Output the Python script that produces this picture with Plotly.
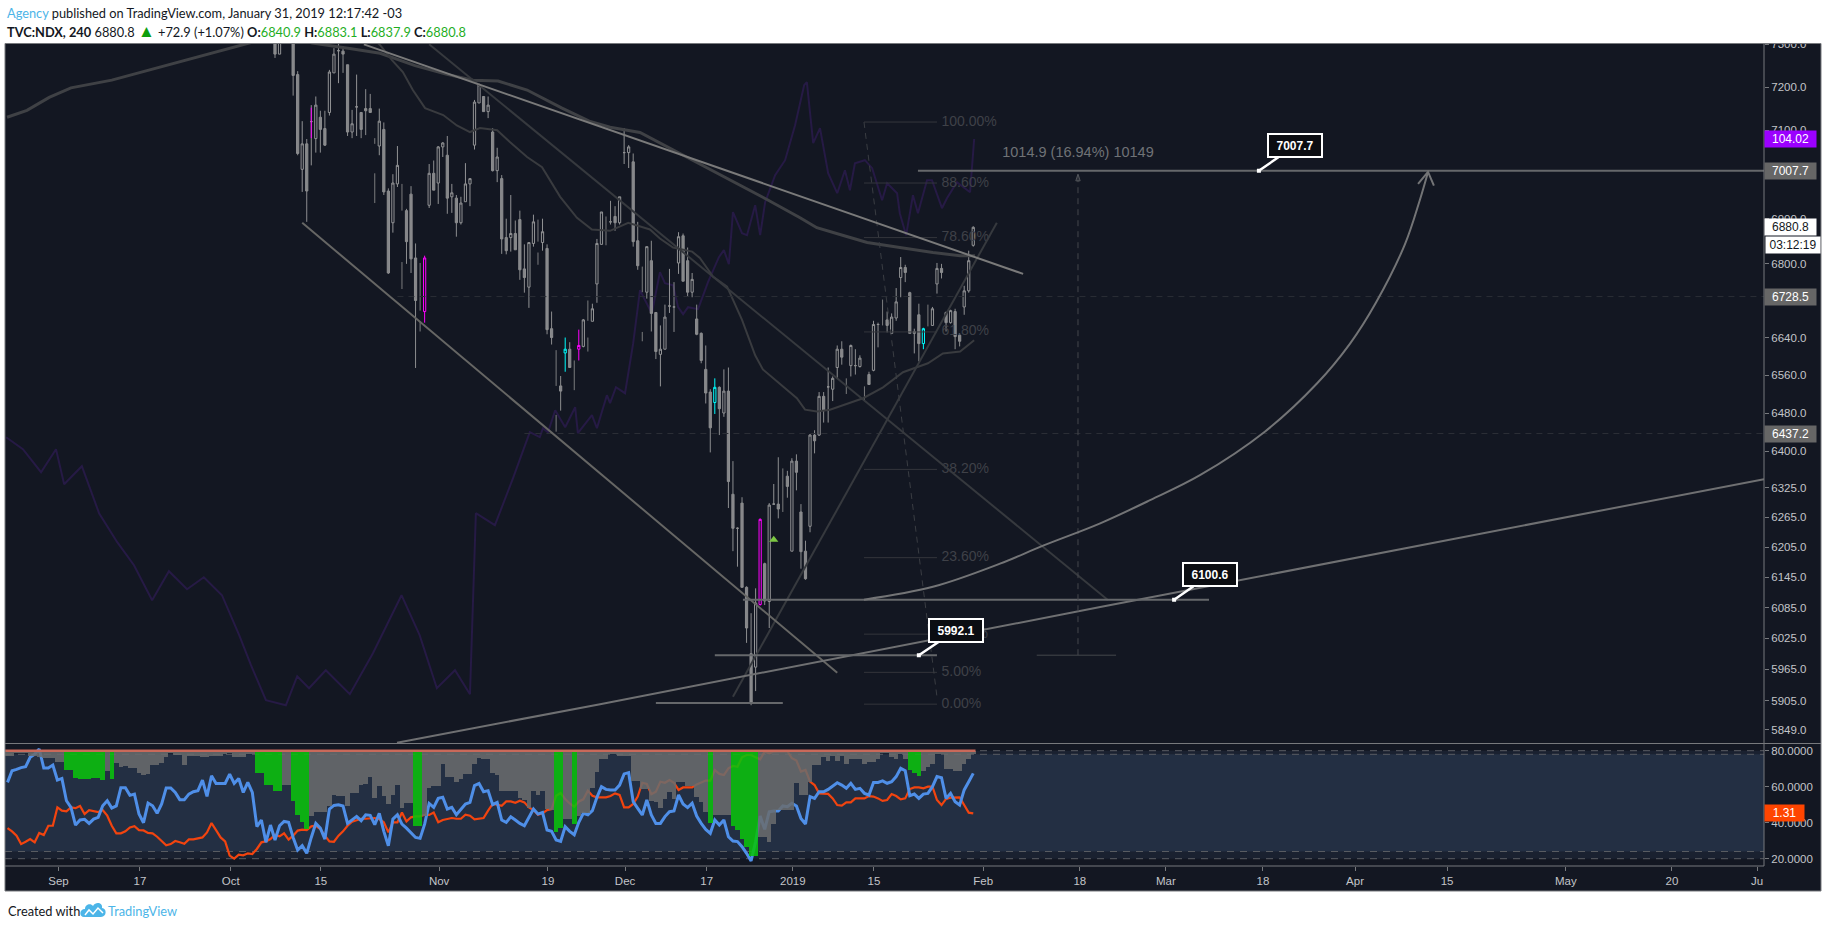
import math
import plotly.graph_objects as go

# ---------- price panel candles (bar index, 4h bars) ----------
candle_bars = list(range(60, 215))
opens = [7340,7277,None,None,7340,7229,7011,7069,7120,7081,
 7130,7104,7141,7233,7285,7284,7252,7096,7154,7141,
 7150,7150,None,7064,7102,6962,6891,6978,None,6918,
 6955,6813,None,6696,6930,7002,6980,7062,7043,6949,
 6946,6891,6938,6978,7066,7163,7178,7143,7096,7008,
 6990,6858,6858,6867,6898,6789,6749,6845,None,6847,
 6834,6659,None,6537,6607,6615,None,6615,6621,None,
 6675,6756,6843,None,6893,6905,6891,7049,7049,7028,
 6851,None,6738,6807,6694,6604,6615,6708,6706,6802,
 6862,6807,6738,6680,6649,6572,6524,6502,6534,6480,
 6526,6312,6243,6294,6125,5995,5969,6091,6172,6097,
 6292,6292,None,6349,6197,6380,6276,6197,6247,6434,
 6434,6515,6535,6530,6576,6615,None,6580,6580,6578,
 None,6561,6570,6668,None,6678,6649,6682,6770,6792,
 6737,6649,6689,6627,None,6666,6756,6790,6694,6672,
 6696,6645,6706,6741,6840.9]
highs = [7350,7340,None,None,7350,7237,7121,7080,7158,7178,
 7145,7145,7240,7291,7320,7296,7252,7147,7229,7141,
 7195,7184,None,7150,7118,6968,7000,7064,None,6922,
 6973,6845,None,6818,7023,7031,7064,7073,7087,6978,
 6953,6949,7025,6990,7170,7208,7178,7178,7105,7060,
 6998,6900,6953,6896,6918,6843,6847,6909,None,6900,
 6843,6696,None,6558,6640,6630,None,6657,6680,None,
 6713,6855,6915,None,6940,6928,6949,7105,7066,7047,
 6893,None,6838,6851,6694,6666,6711,6789,6760,6870,
 6867,6836,6780,6711,6651,6623,6530,6553,6536,6572,
 6576,6380,6245,6306,6127,6074,6123,6263,6174,6294,
 6333,6388,None,6360,6386,6394,6292,6218,6436,6444,
 6524,6524,6576,6557,6623,6632,None,6625,6615,6602,
 None,6567,6676,6672,None,6696,6692,6747,6815,6798,
 6739,6659,6713,6661,None,6706,6802,6800,6696,6700,
 6702,6649,6752,6829,6883.1]
lows = [7268,7277,None,None,7180,7043,6960,6893,7020,7049,
 7049,7064,7134,7233,7209,7233,7087,7082,7087,7082,
 7089,7141,None,7043,6953,6778,6869,6971,None,6800,
 6780,6575,None,6672,6924,6964,6933,7039,6911,6913,
 6860,6887,6938,6928,7056,7163,7143,7128,7006,6982,
 6822,6821,6827,6831,6765,6737,6704,6838,None,6829,
 6647,6625,None,6485,6567,6576,None,6591,6619,None,
 6675,6715,6843,None,6887,6873,6887,7023,7014,6838,
 6787,None,6724,6653,6594,6536,6615,6693,6652,6778,
 6762,6729,6727,6645,6585,6500,6398,6478,6434,6472,
 6284,6197,6166,6125,6016,5896,5923,6089,6090,6045,
 6292,6263,None,6305,6197,6320,6162,6140,6235,6396,
 6432,6460,6460,6505,6553,6582,None,6557,6561,6576,
 None,6540,6568,6619,None,6651,6649,6676,6727,6760,
 6649,6606,6589,6615,None,6666,6735,6768,6653,6670,
 6615,6621,6689,6737,6837.9]
closes = [7277,7330,None,None,7227,7047,7069,6962,7120,7158,
 7102,7066,7235,7277,7285,7277,7096,7115,7154,7102,
 7145,7141,None,7121,6960,6780,6980,7020,None,6849,
 6811,6720,None,6813,7002,6964,7062,7071,6946,6958,
 6891,6935,6978,6990,7165,7205,7143,7158,7008,7039,
 6855,6829,6867,6831,6787,6770,6847,6893,None,6871,
 6657,6640,None,6526,6615,6576,None,6623,6678,None,
 6702,6845,6915,None,6893,6891,6949,7049,7062,6849,
 6796,None,6838,6692,6610,6615,6684,6708,6706,6860,
 6762,6738,6766,6647,6591,6522,6449,6534,6489,6526,
 6338,6243,6243,6125,6045,5902,6094,6261,6098,6290,
 6292,6282,None,6328,6380,6357,6196,6142,6434,6422,
 6515,6485,6535,6553,6615,6598,None,6623,6580,6596,
 None,6540,6668,6668,None,6666,6684,6717,6792,6781,
 6649,6653,6627,6659,None,6702,6790,6781,6672,6698,
 6642,6632,6741,6807,6880.8]
magenta_bars = [93, 127, 167]
cyan_bars = [124, 157, 203]

# wicks whose bodies blend into the background
ghost_bars = [82,82,88,88,92,92,118,118,122,122,126,129,129,133,141,141,172,186,190,194,204]
ghost_tops = [7082,7002,6978,6804,6802,6675,6898,6825,6613,6476,6591,6720,6640,6905,6794,6652,6365,6553,6536,6722,6711]
ghost_bots = [7069,6935,6918,6745,6698,6653,6849,6798,6537,6441,6528,6676,6610,6841,6738,6632,6276,6520,6505,6666,6664]
sliver_bars = [68, 68]
sliver_prices = [7152, 7082]

# ---------- moving averages ----------
ma_long_a_bars = [0.9,5.3,10.2,15,24,33.8,41.7,48.5,52.9,56.7]
ma_long_a_prices = [7130,7146,7176,7198,7216,7244,7268,7286,7300,7310]
ma_long_b_bars = [66,68.2,76.1,83.2,90.9,97.7,103.7,109.2,115.6,123.3,129.3,133.9,140.5,153.7,162.6,168.5,175.8,179.5,184.6,190.6,197.8,205.1,211.1,214.4]
ma_long_b_prices = [7310,7303,7291,7279,7250,7230,7216,7214,7193,7151,7121,7107,7095,7023,6973,6943,6902,6880,6865,6847,6836,6825,6818,6818]
ma_mid_bars = [81,83.2,85.8,88.2,90.4,93.1,97.1,100.1,103,105.2,109,111.8,115.6,118.9,122.9,126.6,129.9,133.9,137.9,142.7,144.9,147.8,152,153.7,156.6,159.7,163,165.9,167.6,171.4,175.1,176.9,179.5,182.4,189.7,194.1,198.5,204,207.3,211.1,214.2]
ma_mid_prices = [7320,7298,7263,7235,7193,7151,7135,7111,7096,7105,7100,7073,7039,7016,6949,6902,6876,6873,6891,6876,6856,6836,6827,6813,6772,6750,6678,6602,6572,6540,6511,6487,6483,6487,6511,6534,6566,6585,6606,6610,6634]

# ---------- overlay oscillator ----------
osc_bars = [0.7,4.4,8.4,11.7,13.5,17.4,21.2,25.2,28.9,32.9,36.6,40.6,44.3,48.3,52.1,54.7,58,62.4,64.9,67.5,71.2,76.5,81.6,87.9,91.9,95.7,99.7,103,104.3,108.5,112.5,116.2,118.4,119.1,120.2,121.8,124,126.2,126.8,129.9,131,133.2,133.9,135.2,137.2,139,140.5,143.1,144.9,146,147.8,148.9,150,151.1,153.3,155.5,157.9,159,160.1,161,163,164.1,165.9,167,168.1,170.3,172.5,174.7,176.7,177.3,178.7,180.2,182,184,185.7,186.8,187.9,190.1,191.7,193.9,195,197.2,197.8,199.2,200.7,201.8,203.8,204.9,207.1,208.2,210.4,213.3,214.2]
osc_values = [74.2,73.0,70.7,73.0,69.5,71.3,66.6,63.7,61.4,57.9,60.8,59.0,60.2,58.4,54.4,51.4,47.9,47.4,50.3,49.1,50.9,48.5,52.6,58.4,54.4,49.1,50.9,48.5,66.6,65.4,70.1,74.7,74.2,75.1,74.7,76.9,75.2,77.2,74.6,76.4,75.1,78.4,77.6,79.2,78.6,83.6,88.9,86.6,90.7,89.6,89.4,87.2,86.5,87.2,87.0,89.7,92.2,92.9,91.5,96.7,94.6,94.4,97.4,94.4,97.7,100.4,101.9,105.4,109.4,109.7,103.6,105.1,100.6,98.6,100.9,98.9,101.6,101.9,101.1,97.9,99.6,98.6,96.6,94.4,98.4,96.6,99.9,99.9,97.1,98.1,99.7,98.7,104.02]

# ---------- drawings ----------
trend_top_bars = [79.6, 225]
trend_top_prices = [7300, 6778]
trend_wedge_bars = [66, 184]
trend_wedge_prices = [6891, 5958]
trend_fall_bars = [94, 243.7]
trend_fall_prices = [7300, 6100]
trend_rise_bars = [161, 219.2]
trend_rise_prices = [5912, 6891]
trend_long_bars = [86.9,131.7,242,388.4]
trend_long_prices = [5825,5898,6086,6343]
level_7007_bars = [201.8, 388.4]
level_7007_prices = [7007.7, 7007.7]
level_6100_bars = [163.2, 266]
level_6100_prices = [6100.6, 6100.6]
level_5992_bars = [157, 206]
level_5992_prices = [5992.1, 5992.1]
level_5900_bars = [144, 172]
level_5900_prices = [5900, 5900]
measure_base_bars = [228, 245.5]
measure_base_prices = [5992.1, 5992.1]
measure_vert_bars = [237.1, 237.1]
measure_vert_prices = [5992.1, 7000]
measure_text = "1014.9 (16.94%) 10149"
measure_text_price = 7048
arc_bars = [189.9,205.1,219.9,229.4,242,253,264,278.3,289.8,297.1,302.8,309.2,312.5,314.3]
arc_prices = [6100.6,6126,6172,6208,6253,6300,6351,6441,6542,6627,6715,6843,6942,7005]
arc_head_bars = [312.1,314.3,315.6]
arc_head_prices = [6978,7005,6974]
hline_6728 = 6728.5
hline_6728_bars = [87, 388.4]
hline_6437 = 6437.2
hline_6437_bars = [115, 388.4]

fib_labels = ["100.00%","88.60%","78.60%","61.80%","38.20%","23.60%","11.00%","5.00%","0.00%"]
fib_prices = [7119,6980,6858,6652,6363,6184,6033,5959,5898]
fib_bar_from = 189.9
fib_bar_to = 206
fib_diag_bars = [189.9, 206]
fib_diag_prices = [7119, 5912]
signal_bar = 170
signal_price = 6220
callout_bars = [277, 258.3, 202]
callout_prices = [7007.7, 6100.6, 5992.1]

# ---------- lower panel ----------
rsi_bars = list(range(1, 215))
hist_values = [77.6,77.6,79.1,79.1,79.1,77.2,77.2,76.7,76.5,76.3,
 76.3,74.1,74.1,69.8,69.8,65.0,64.6,64.3,64.8,65.0,
 65.2,63.9,68.9,64.6,73.5,71.1,71.9,70.7,70.7,68.0,
 67.0,67.6,72.2,72.2,73.5,76.7,79.0,78.1,78.1,72.6,
 77.6,77.6,77.6,76.8,76.8,77.6,77.6,77.6,78.5,79.0,
 76.8,76.8,76.8,78.5,78.5,68.1,68.1,61.1,61.1,57.8,
 57.8,61.5,61.5,52.6,44.8,40.6,36.5,43.9,46.1,46.1,
 46.5,49.4,55.9,55.0,55.0,49.4,56.9,56.9,61.5,61.9,
 65.7,54.1,60.6,55.0,50.4,55.9,61.5,48.5,51.3,51.3,
 38.3,38.3,43.9,59.6,60.9,60.9,73.1,65.7,65.7,63.0,
 64.6,67.6,67.6,73.1,76.3,75.9,75.4,68.0,66.7,57.8,
 57.8,57.8,57.8,54.1,53.1,48.5,58.1,55.6,57.8,48.0,
 47.6,35.0,37.4,42.6,42.6,39.8,43.9,45.7,45.7,59.6,
 68.5,75.8,75.8,78.2,78.2,77.1,77.6,77.6,63.7,63.7,
 59.1,59.1,52.6,51.7,48.5,53.5,57.6,53.5,62.8,62.8,
 60.9,60.9,54.5,51.7,46.1,40.0,44.3,44.3,44.3,44.3,
 38.7,36.3,31.3,27.0,21.5,21.5,32.2,32.2,29.5,39.6,
 47.1,47.1,47.1,47.1,62.2,55.4,55.4,62.8,72.1,72.1,
 76.7,74.8,77.6,74.8,77.6,73.0,75.8,75.8,75.8,73.0,
 73.9,73.9,75.8,78.9,78.9,76.7,75.8,78.5,75.8,69.8,
 67.8,66.5,68.9,71.1,73.0,78.2,78.2,70.2,70.2,68.9,
 68.9,73.0,75.8,78.5]
hist_green_bars = [14,15,16,17,18,19,20,21,22,24,56,57,58,59,60,61,64,65,66,67,91,92,122,123,126,156,161,162,163,164,165,166,200,201,202]
hist_base = 80
rsi_blue = [62.4,68.9,69.6,70.6,71.1,76.3,78.1,80.9,70.4,70.4,
 72.0,63.7,64.6,52.2,48.5,38.7,41.5,41.9,39.6,42.0,
 43.0,49.4,52.2,48.1,49.3,59.4,59.4,55.2,55.9,44.8,
 40.0,50.9,49.4,45.2,50.4,59.3,59.3,56.8,52.8,52.8,
 55.9,57.2,57.8,63.7,54.6,66.1,61.8,61.8,61.8,67.0,
 61.8,64.6,56.8,62.4,56.8,37.8,41.5,29.1,38.7,30.4,
 38.3,40.7,40.2,31.8,24.8,27.2,23.0,31.8,39.6,37.0,
 30.9,47.6,49.6,50.0,49.3,39.6,41.5,43.5,41.1,44.4,
 44.1,38.9,45.2,35.2,27.2,42.0,44.4,39.2,37.0,34.6,
 31.8,31.3,39.2,50.7,48.5,53.5,54.1,47.6,48.5,44.4,
 47.6,50.4,51.3,60.6,61.8,57.2,57.8,50.0,51.3,41.5,
 40.2,43.3,41.5,39.6,38.3,43.0,47.6,44.8,45.7,35.9,
 35.2,30.4,29.6,37.8,35.2,33.3,40.2,45.2,44.4,46.7,
 54.1,60.0,58.5,58.2,58.2,60.9,67.1,67.8,51.7,48.0,
 44.3,52.6,44.3,39.6,39.6,43.4,46.1,46.5,55.4,50.4,
 48.4,50.8,43.7,39.6,36.3,34.1,41.5,38.7,41.5,32.2,
 29.8,29.5,26.7,23.0,18.7,29.5,43.7,36.3,46.1,46.5,
 46.5,49.3,48.9,50.8,49.3,42.4,39.3,54.5,53.5,57.2,
 57.2,58.5,60.4,62.2,60.9,59.1,61.9,58.5,59.1,56.3,
 55.4,62.4,62.4,63.2,61.9,62.8,65.6,70.2,68.9,55.0,
 55.9,53.5,55.9,56.3,60.0,65.6,65.0,53.5,56.3,51.7,
 49.8,58.2,62.8,67.4]
rsi_orange = [37.0,35.2,32.8,28.1,29.4,30.9,29.1,34.3,33.1,38.3,
 38.3,48.5,46.7,46.3,48.5,48.1,49.3,44.8,47.0,46.3,
 45.9,47.0,43.9,38.3,34.1,34.1,35.2,37.4,38.1,35.9,
 35.7,34.3,34.1,32.2,30.0,27.4,28.1,29.8,29.1,28.3,
 30.7,30.7,31.3,31.8,34.6,39.8,35.9,31.8,29.6,21.7,
 20.0,22.2,21.9,23.0,22.6,25.4,29.1,29.6,30.9,33.3,
 32.4,34.1,30.6,32.8,35.6,36.1,35.9,38.0,38.3,36.5,
 32.8,29.6,29.4,32.8,35.2,38.3,40.6,41.5,42.2,42.2,
 42.6,42.6,42.0,40.2,34.6,40.2,40.2,45.7,40.7,43.0,
 43.5,43.5,44.4,44.3,45.7,40.2,41.5,42.0,42.6,42.2,
 42.2,44.4,43.9,41.8,42.2,42.6,46.7,50.4,50.0,49.4,
 51.8,51.8,51.1,52.2,51.3,48.5,47.0,44.4,45.2,47.0,
 47.6,55.0,56.5,53.1,50.7,48.9,51.8,53.0,57.8,55.0,
 54.1,54.1,54.1,54.8,56.3,55.4,48.5,48.5,50.4,54.5,
 62.2,61.5,55.8,57.2,62.8,62.2,63.7,62.2,58.2,59.6,
 59.6,59.6,61.3,62.2,63.4,63.4,69.3,67.1,66.5,70.2,
 71.5,71.1,76.3,77.6,77.6,76.3,75.2,79.5,78.5,79.5,
 79.5,79.5,79.8,75.8,74.5,68.4,69.3,62.8,60.9,56.3,
 56.0,56.0,53.5,49.8,49.5,51.3,51.3,53.5,53.5,53.5,
 54.8,54.5,53.5,52.1,52.6,55.9,54.8,53.0,53.5,58.7,
 59.6,59.6,59.1,60.0,60.0,52.6,49.8,53.2,53.9,53.9,
 54.1,49.8,45.6,45.2]
rsi_levels = [80, 78, 24, 20]
rsi_outer_band = (20, 80)
rsi_inner_band = (24, 78)
rsi_cap_bars = [0.45, 214.5]
rsi_cap_values = [80, 80]
rsi_level_bars = [0.45, 388.4]

# ---------- axis labels ----------
x_tick_bars = [12.25,30.2,50.25,70.1,96.2,120.2,137.2,155.2,174.2,192.1,216.2,237.5,256.5,277.9,298.2,318.5,344.7,368.1,386.9]
x_tick_labels = ["Sep","17","Oct","15","Nov","19","Dec","17","2019","15","Feb","18","Mar","18","Apr","15","May","20","Ju"]
price_ticks = [7300,7200,7100,6900,6800,6640,6560,6480,6400,6325,6265,6205,6145,6085,6025,5965,5905,5849]
price_tick_labels = ["7300.0","7200.0","7100.0","6900.0","6800.0","6640.0","6560.0","6480.0","6400.0","6325.0","6265.0","6205.0","6145.0","6085.0","6025.0","5965.0","5905.0","5849.0"]
rsi_ticks = [20, 40, 60, 80]
rsi_tick_labels = ["20.0000","40.0000","60.0000","80.0000"]

W, H = 1828, 928
def fx(p): return p / W
def fy(p): return 1 - p / H

BG = "#131722"
FONT = "Liberation Sans"
TICK = "#c3c5c9"
FRAME = "#77797d"
LEFT, RIGHT_AXIS, RIGHT, TOP, SPLIT, SUB_BOTTOM, BOTTOM = 5, 1764, 1821, 43.5, 743.5, 866, 891

X_RANGE = [0.45, 388.4]
PRICE_RANGE = [math.log10(5823.5), math.log10(7302)]
OSC_RANGE = [43.57, 113.57]
RSI_RANGE = [15.94, 84]

fig = go.Figure()

def line(xs, ys, color, width, axis="y3", dash="solid", shape="linear"):
    fig.add_trace(go.Scatter(x=xs, y=ys, mode="lines", yaxis=axis,
                             line=dict(color=color, width=width, dash=dash, shape=shape),
                             hoverinfo="skip", showlegend=False, connectgaps=False))

# oscillator sits on the base price layer, under the candles
line(osc_bars, osc_values, "#261a45", 2, axis="y")

# candles
main_o, main_h, main_l, main_c = [], [], [], []
mag_o, mag_h, mag_l, mag_c = [], [], [], []
cy_o, cy_h, cy_l, cy_c = [], [], [], []
for b, o, h, l, c in zip(candle_bars, opens, highs, lows, closes):
    m, cy = b in magenta_bars, b in cyan_bars
    main_o.append(None if m or cy else o); main_h.append(None if m or cy else h)
    main_l.append(None if m or cy else l); main_c.append(None if m or cy else c)
    mag_o.append(o if m else None); mag_h.append(h if m else None)
    mag_l.append(l if m else None); mag_c.append(c if m else None)
    cy_o.append(o if cy else None); cy_h.append(h if cy else None)
    cy_l.append(l if cy else None); cy_c.append(c if cy else None)

def candles(o, h, l, c, up_line, up_fill, dn_line, dn_fill):
    fig.add_trace(go.Candlestick(x=candle_bars, open=o, high=h, low=l, close=c, yaxis="y3",
                                 increasing=dict(line=dict(color=up_line, width=1), fillcolor=up_fill),
                                 decreasing=dict(line=dict(color=dn_line, width=1), fillcolor=dn_fill),
                                 hoverinfo="skip", showlegend=False, whiskerwidth=0))

candles(main_o, main_h, main_l, main_c, "#929395", BG, "#8c8d8f", "#86878a")
candles(mag_o, mag_h, mag_l, mag_c, "#ff00ff", BG, "#ff00ff", BG)
candles(cy_o, cy_h, cy_l, cy_c, "#00ffff", BG, "#00ffff", BG)

ghost_x, ghost_y = [], []
for b, t, d in zip(ghost_bars, ghost_tops, ghost_bots):
    ghost_x += [b, b, None]
    ghost_y += [t, d, None]
line(ghost_x, ghost_y, "#7b7c7e", 1)
line(sliver_bars, sliver_prices, "#ff00ff", 1)

# moving averages
line(ma_long_a_bars, ma_long_a_prices, "#3f4145", 3)
line(ma_long_b_bars, ma_long_b_prices, "#3f4145", 3)
line(ma_mid_bars, ma_mid_prices, "#393b3f", 2)

# horizontal dashed price lines
line(hline_6728_bars, [hline_6728, hline_6728], "#2b2e36", 1, dash="6px,5px")
line(hline_6437_bars, [hline_6437, hline_6437], "#2b2e36", 1, dash="6px,5px")

# fibonacci tool
for lab, p in zip(fib_labels, fib_prices):
    line([fib_bar_from, fib_bar_to], [p, p], "#34363c", 1)
line(fib_diag_bars, fib_diag_prices, "#3a3d43", 1, dash="6px,5px")
fig.add_trace(go.Scatter(x=[fib_bar_to + 1] * len(fib_labels), y=fib_prices, mode="text", yaxis="y3",
                         text=fib_labels, textposition="middle right",
                         textfont=dict(family=FONT, size=14, color="#3f4148"),
                         hoverinfo="skip", showlegend=False))

# trend lines and levels
line(trend_fall_bars, trend_fall_prices, "#36393e", 2)
line(trend_rise_bars, trend_rise_prices, "#36393e", 2)
line(trend_top_bars, trend_top_prices, "#7a7a7a", 2)
line(trend_wedge_bars, trend_wedge_prices, "#666664", 2)
line(trend_long_bars, trend_long_prices, "#6f7072", 2)
line(level_7007_bars, level_7007_prices, "#66686b", 2)
line(level_6100_bars, level_6100_prices, "#66686b", 2)
line(level_5992_bars, level_5992_prices, "#66686b", 2)
line(level_5900_bars, level_5900_prices, "#66686b", 2)
line(measure_base_bars, measure_base_prices, "#44474c", 1)
line(measure_vert_bars, measure_vert_prices, "#44474c", 1, dash="6px,5px")
line(arc_bars, arc_prices, "#737476", 2, shape="spline")
line(arc_head_bars, arc_head_prices, "#737476", 2)

fig.add_trace(go.Scatter(x=[signal_bar], y=[signal_price], mode="markers", yaxis="y3",
                         marker=dict(symbol="triangle-up", size=8, color="#7cc742"),
                         hoverinfo="skip", showlegend=False))
fig.add_trace(go.Scatter(x=callout_bars, y=callout_prices, mode="markers", yaxis="y3",
                         marker=dict(symbol="square", size=4, color="#ffffff"),
                         hoverinfo="skip", showlegend=False))
fig.add_trace(go.Scatter(x=[measure_vert_bars[0]], y=[measure_vert_prices[1]], mode="markers", yaxis="y3",
                         marker=dict(symbol="arrow-open", size=7, color="#55585d", line=dict(width=1, color="#55585d")),
                         hoverinfo="skip", showlegend=False))
fig.add_trace(go.Scatter(x=[measure_vert_bars[0]], y=[measure_text_price], mode="text", yaxis="y3",
                         text=[measure_text], textposition="middle center",
                         textfont=dict(family=FONT, size=14.5, color="#6f7276"),
                         hoverinfo="skip", showlegend=False))

# lower panel lines (below the histogram overlay)
for lv in rsi_levels:
    line(rsi_level_bars, [lv, lv], "#5a5d63", 1, axis="y2", dash="7px,6px")
line(rsi_bars, rsi_orange, "#f2440f", 2.2, axis="y2")
line(rsi_bars, rsi_blue, "#4f8fe8", 3, axis="y2")

# histogram overlay
hist_colors = ["rgba(10,194,13,0.88)" if b in hist_green_bars else "rgba(106,108,110,0.86)" for b in rsi_bars]
fig.add_trace(go.Bar(x=rsi_bars, y=[v - hist_base for v in hist_values], base=hist_base, yaxis="y4",
                     width=1, marker=dict(color=hist_colors, line=dict(width=0)),
                     hoverinfo="skip", showlegend=False))
line(rsi_cap_bars, rsi_cap_values, "#c9695a", 2.5, axis="y4")

# ---------- page furniture ----------
def price_y(p): return math.log10(p)

shapes = [
    dict(type="rect", xref="paper", yref="paper", x0=fx(LEFT), x1=fx(RIGHT), y0=fy(BOTTOM), y1=fy(TOP),
         fillcolor=BG, line=dict(width=0), layer="below"),
    dict(type="rect", xref="paper", yref="y2", x0=fx(LEFT), x1=fx(RIGHT_AXIS), y0=rsi_outer_band[0], y1=rsi_outer_band[1],
         fillcolor="#1a2130", line=dict(width=0), layer="below"),
    dict(type="rect", xref="paper", yref="y2", x0=fx(LEFT), x1=fx(RIGHT_AXIS), y0=rsi_inner_band[0], y1=rsi_inner_band[1],
         fillcolor="#232f43", line=dict(width=0), layer="below"),
    # page strip that trims labels poking above the chart frame, then the frame itself
    dict(type="rect", xref="paper", yref="paper", x0=0, x1=1, y0=fy(TOP), y1=1, fillcolor="#ffffff",
         line=dict(width=0), layer="above"),
    dict(type="rect", xref="paper", yref="paper", x0=fx(LEFT), x1=fx(RIGHT), y0=fy(BOTTOM), y1=fy(TOP),
         fillcolor="rgba(0,0,0,0)", line=dict(color=FRAME, width=1), layer="above"),
    dict(type="line", xref="paper", yref="paper", x0=fx(LEFT), x1=fx(RIGHT), y0=fy(SPLIT), y1=fy(SPLIT),
         line=dict(color=FRAME, width=1), layer="above"),
    dict(type="line", xref="paper", yref="paper", x0=fx(RIGHT_AXIS), x1=fx(RIGHT_AXIS), y0=fy(SUB_BOTTOM), y1=fy(TOP),
         line=dict(color=FRAME, width=1), layer="above"),
    dict(type="line", xref="paper", yref="paper", x0=fx(LEFT), x1=fx(RIGHT_AXIS), y0=fy(SUB_BOTTOM), y1=fy(SUB_BOTTOM),
         line=dict(color=FRAME, width=1), layer="above"),
]

def pts(cmds):
    out = []
    for c in cmds:
        if isinstance(c, str):
            out.append(c)
        else:
            out.append(f"{fx(c[0]):.5f},{fy(c[1]):.5f}")
    return " ".join(out)

cloud = pts(["M",(84,917),"C",(79,917),(79,909),(85,909),"C",(85,904),(91,903),(93,906),
             "C",(96,901),(103,903),(102,908),"C",(107,908),(107,917),(101,917),"Z"])
zig = pts(["M",(85,915),"L",(89,910),"L",(93,914),"L",(98,908),"L",(103,913)])
shapes.append(dict(type="path", xref="paper", yref="paper", path=cloud, fillcolor="#4cb5e8",
                   line=dict(width=0), layer="above"))
shapes.append(dict(type="path", xref="paper", yref="paper", path=zig, line=dict(color="#ffffff", width=1.5),
                   layer="above"))

HEAD = "Lato"
HEAD_SIZE = 12.8
INK = "#131722"
GREEN = "#1fae1f"
annotations = [
    dict(xref="paper", yref="paper", x=fx(5), y=fy(13), xanchor="left", yanchor="middle", showarrow=False,
         font=dict(family=HEAD, size=HEAD_SIZE, color=INK),
         text='<span style="color:#4cb5e8">Agency</span> published on TradingView.com, January 31, 2019 12:17:42 -03'),
    dict(xref="paper", yref="paper", x=fx(5), y=fy(30), xanchor="left", yanchor="middle", showarrow=False,
         font=dict(family=HEAD, size=HEAD_SIZE, color=INK),
         text=f'<b>TVC:NDX, 240</b> 6880.8 <span style="color:#0d9e0d;font-size:17px">▲</span> +72.9 (+1.07%) '
              f'<b>O:</b><span style="color:{GREEN}">6840.9</span> <b>H:</b><span style="color:{GREEN}">6883.1</span> '
              f'<b>L:</b><span style="color:{GREEN}">6837.9</span> <b>C:</b><span style="color:{GREEN}">6880.8</span>'),
    dict(xref="paper", yref="paper", x=fx(6), y=fy(911), xanchor="left", yanchor="middle", showarrow=False,
         font=dict(family=HEAD, size=HEAD_SIZE, color=INK), text="Created with"),
    dict(xref="paper", yref="paper", x=fx(106), y=fy(911), xanchor="left", yanchor="middle", showarrow=False,
         font=dict(family=HEAD, size=HEAD_SIZE, color="#4cb5e8"), text="TradingView"),
]

def tag(text, y, yref, bg, fg="#ffffff", x0=RIGHT_AXIS, w=51):
    annotations.append(dict(xref="paper", yref=yref, x=fx(x0), y=y, xanchor="left", yanchor="middle",
                            showarrow=False, text=text, bgcolor=bg, width=w, height=16, borderpad=0,
                            align="center", font=dict(family=FONT, size=12, color=fg)))

tag("104.02", 104.02, "y", "#9b00ff")
tag("7007.7", price_y(7007.7), "y3", "#666666")
tag("6880.8", price_y(6880.8), "y3", "#ffffff", fg="#131722")
tag("6728.5", price_y(6728.5), "y3", "#666666")
tag("6437.2", price_y(6437.2), "y3", "#666666")
tag("1.31", 45.2, "y2", "#ff4500", w=39)
annotations.append(dict(xref="paper", yref="paper", x=fx(1765), y=fy(245.5), xanchor="left", yanchor="middle",
                        showarrow=False, text="03:12:19", bgcolor="#ffffff", width=54, height=16, borderpad=0,
                        align="center", font=dict(family=FONT, size=12, color="#131722")))

callout_texts = ["7007.7", "6100.6", "5992.1"]
callout_offsets = [(36, -25), (36, -25), (37, -25)]
for b, p, t, (ax, ay) in zip(callout_bars, callout_prices, callout_texts, callout_offsets):
    annotations.append(dict(xref="x", yref="y3", x=b, y=price_y(p), ax=ax, ay=ay, axref="pixel", ayref="pixel",
                            text=f"<b>{t}</b>", showarrow=True, arrowhead=0, arrowwidth=2.5, arrowcolor="#ffffff",
                            standoff=0, startstandoff=0,
                            bgcolor="#0b0d12", bordercolor="#ffffff", borderwidth=2, borderpad=3,
                            width=46, height=15, font=dict(family=FONT, size=12, color="#ffffff")))

axis_font = dict(family=FONT, size=11.5, color=TICK)
main_domain = [fy(SPLIT), fy(TOP)]
sub_domain = [fy(SUB_BOTTOM), fy(SPLIT)]

fig.update_layout(
    width=W, height=H, autosize=False,
    margin=dict(l=0, r=0, t=0, b=0, pad=0, autoexpand=False),
    paper_bgcolor="#ffffff", plot_bgcolor="rgba(0,0,0,0)",
    showlegend=False, hovermode=False, bargap=0, barmode="overlay",
    font=dict(family=FONT),
    shapes=shapes, annotations=annotations,
    xaxis=dict(domain=[fx(LEFT), fx(RIGHT_AXIS)], range=X_RANGE, anchor="y2", type="linear", automargin=False,
               showgrid=False, zeroline=False, showline=False, rangeslider=dict(visible=False),
               tickmode="array", tickvals=x_tick_bars, ticktext=x_tick_labels,
               ticks="outside", ticklen=4, tickcolor=FRAME, tickfont=axis_font),
    yaxis=dict(domain=main_domain, range=OSC_RANGE, anchor="x", visible=False, fixedrange=True, automargin=False),
    yaxis3=dict(domain=main_domain, range=PRICE_RANGE, type="log", overlaying="y", side="right", anchor="x",
                automargin=False, showgrid=False, zeroline=False, showline=False,
                tickmode="array", tickvals=price_ticks, ticktext=price_tick_labels,
                ticks="outside", ticklen=4, tickcolor=FRAME, tickfont=axis_font),
    yaxis2=dict(domain=sub_domain, range=RSI_RANGE, anchor="x", side="right", automargin=False,
                showgrid=False, zeroline=False, showline=False,
                tickmode="array", tickvals=rsi_ticks, ticktext=rsi_tick_labels,
                ticks="outside", ticklen=4, tickcolor=FRAME, tickfont=axis_font),
    yaxis4=dict(domain=sub_domain, range=RSI_RANGE, anchor="x", overlaying="y2", side="right", visible=False,
                automargin=False),
)

fig.write_html("out.html", config=dict(displayModeBar=False),
               post_script="document.body.style.margin='0';document.body.style.overflow='hidden';")
